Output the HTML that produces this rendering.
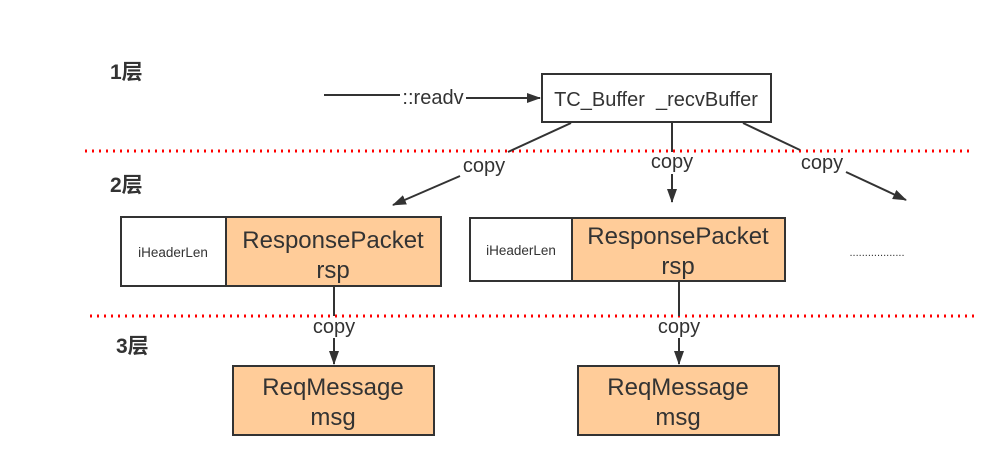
<!DOCTYPE html>
<html><head><meta charset="utf-8"><style>
body{margin:0;background:#fff;}
svg text{font-family:"Liberation Sans","Noto Sans CJK SC",sans-serif;fill:#333;}
</style></head><body>
<svg width="1007" height="468" viewBox="0 0 1007 468" xmlns="http://www.w3.org/2000/svg">
<defs><marker id="a" markerWidth="14" markerHeight="12" refX="13" refY="6" orient="auto" markerUnits="userSpaceOnUse"><path d="M0,1 L14,6 L0,11 z" fill="#333"/></marker></defs>
<line x1="85" y1="151" x2="972" y2="151" stroke="#f00" stroke-width="3" stroke-dasharray="2,5"/>
<line x1="90" y1="316" x2="975" y2="316" stroke="#f00" stroke-width="3" stroke-dasharray="2,5"/>
<text x="110" y="79" font-size="21" font-weight="bold">1层</text>
<text x="110" y="192" font-size="21" font-weight="bold">2层</text>
<text x="116" y="353" font-size="21" font-weight="bold">3层</text>
<g stroke="#333" stroke-width="2" fill="none">
<line x1="324" y1="95" x2="400" y2="95"/>
<line x1="466" y1="98" x2="540" y2="98" marker-end="url(#a)"/>
<rect x="542" y="74" width="229" height="48" fill="#fff"/>
<line x1="571" y1="123" x2="508" y2="152"/>
<line x1="460" y1="176" x2="393" y2="205" marker-end="url(#a)"/>
<line x1="672" y1="122" x2="672" y2="152"/>
<line x1="672" y1="174" x2="672" y2="202" marker-end="url(#a)"/>
<line x1="743" y1="123" x2="800" y2="150"/>
<line x1="846" y1="172" x2="906" y2="200" marker-end="url(#a)"/>
<rect x="121" y="217" width="320" height="69" fill="#fff"/>
<rect x="226" y="217" width="215" height="69" fill="#ffcc99"/>
<rect x="470" y="218" width="315" height="63" fill="#fff"/>
<rect x="572" y="218" width="213" height="63" fill="#ffcc99"/>
<line x1="334" y1="286" x2="334" y2="316"/>
<line x1="334" y1="338" x2="334" y2="364" marker-end="url(#a)"/>
<line x1="679" y1="281" x2="679" y2="316"/>
<line x1="679" y1="338" x2="679" y2="364" marker-end="url(#a)"/>
<rect x="233" y="366" width="201" height="69" fill="#ffcc99"/>
<rect x="578" y="366" width="201" height="69" fill="#ffcc99"/>
</g>
<text x="433" y="104" font-size="20" text-anchor="middle">::readv</text>
<text x="656" y="106" font-size="20" text-anchor="middle" xml:space="preserve">TC_Buffer  _recvBuffer</text>
<text x="484" y="172" font-size="20" text-anchor="middle">copy</text>
<text x="672" y="168" font-size="20" text-anchor="middle">copy</text>
<text x="822" y="169" font-size="20" text-anchor="middle">copy</text>
<text x="334" y="333" font-size="20" text-anchor="middle">copy</text>
<text x="679" y="333" font-size="20" text-anchor="middle">copy</text>
<text x="173" y="257" font-size="13.5" text-anchor="middle">iHeaderLen</text>
<text x="521" y="255" font-size="13.5" text-anchor="middle">iHeaderLen</text>
<text x="333" y="248" font-size="24" text-anchor="middle">ResponsePacket</text>
<text x="333" y="278" font-size="24" text-anchor="middle">rsp</text>
<text x="678" y="244" font-size="24" text-anchor="middle">ResponsePacket</text>
<text x="678" y="274" font-size="24" text-anchor="middle">rsp</text>
<text x="877" y="256" font-size="11" text-anchor="middle">..................</text>
<text x="333" y="395" font-size="24" text-anchor="middle">ReqMessage</text>
<text x="333" y="425" font-size="24" text-anchor="middle">msg</text>
<text x="678" y="395" font-size="24" text-anchor="middle">ReqMessage</text>
<text x="678" y="425" font-size="24" text-anchor="middle">msg</text>
</svg>
</body></html>
